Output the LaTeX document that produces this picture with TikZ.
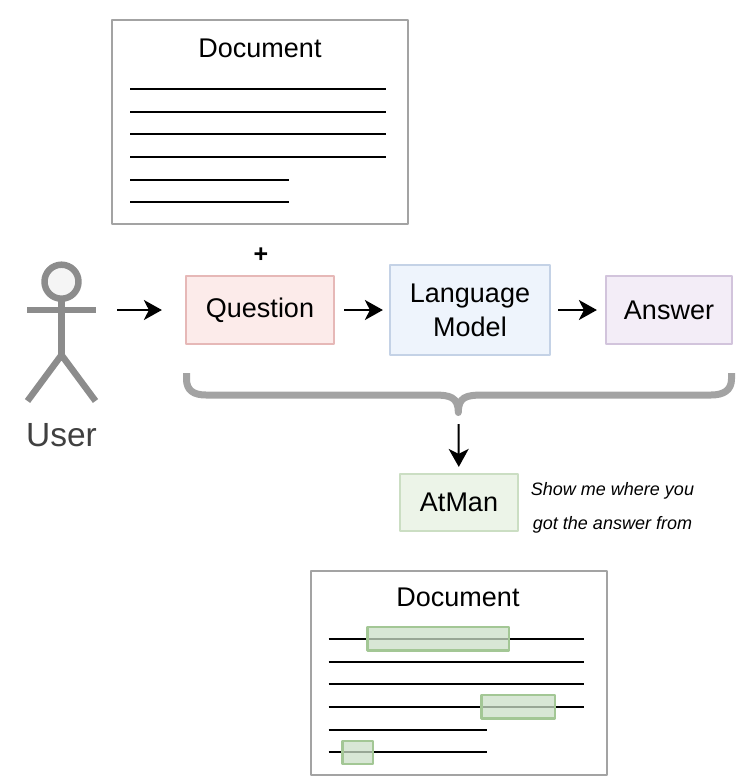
\documentclass[tikz,border=0pt]{standalone}
\usepackage{fontspec}
\setmainfont{Liberation Sans}
\usetikzlibrary{arrows.meta}
\definecolor{edge_gray}{HTML}{A3A3A3}
\definecolor{actor_gray}{HTML}{8C8C8C}
\definecolor{mark_green}{HTML}{A3C795}
\definecolor{mark_fill}{HTML}{CCE0C8}
\definecolor{q_edge}{HTML}{E6B8B7}
\definecolor{q_fill}{HTML}{FCEBEA}
\definecolor{m_edge}{HTML}{C4D2E6}
\definecolor{m_fill}{HTML}{EEF4FC}
\definecolor{a_edge}{HTML}{D2C4DC}
\definecolor{a_fill}{HTML}{F3EDF7}
\definecolor{t_edge}{HTML}{CBDEC3}
\definecolor{t_fill}{HTML}{ECF4E8}
\newcommand{\pagelines}[2]{
	\draw[page_line] (#1,#2) -- (#1+255.5,#2);
	\draw[page_line] (#1,#2+23) -- (#1+255.5,#2+23);
	\draw[page_line] (#1,#2+45) -- (#1+255.5,#2+45);
	\draw[page_line] (#1,#2+68) -- (#1+255.5,#2+68);
	\draw[page_line] (#1,#2+91) -- (#1+158.5,#2+91);
	\draw[page_line] (#1,#2+113) -- (#1+158.5,#2+113);
}
\begin{document}
\begin{tikzpicture}[x=1pt,y=-1pt,join=round]
		\tikzstyle{page_box}=[draw=edge_gray, line width=2.5pt, fill=white, minimum width=296pt, minimum height=204pt];
		\tikzstyle{page_line}=[black, line width=2pt];
		\tikzstyle{page_title}=[font=\fontsize{27}{32}\selectfont];
		\tikzstyle{step_box}=[draw, line width=2.2pt, align=center, font=\fontsize{27}{34}\selectfont];
		\tikzstyle{flow}=[-{Stealth[length=18pt,width=20pt,inset=5pt]}, black, line width=2pt];
		\tikzstyle{mark_box}=[draw=mark_green, line width=2.2pt, fill=mark_fill, fill opacity=0.75, inner sep=0pt];
		\tikzstyle{actor}=[draw=actor_gray, line width=6.5pt];

		\useasboundingbox (0,0) rectangle (740,782);

		% upper document
		\node[page_box] (page_a) at (260,122) {};
		\node[page_title] (title_a) at (260,48) {Document};
		\pagelines{130}{89}
		\node[font=\fontsize{25}{32}\bfseries] (plus) at (261,255.5) {+};

		% user
		\draw[actor, fill=black!4] (61.5,281.7) circle (17);
		\draw[actor] (61.5,301) -- (61.5,355);
		\draw[actor] (27,310) -- (96,310);
		\draw[actor] (27.5,401) -- (61.5,355) -- (95.5,401);
		\coordinate (arm_r) at (96,310);
		\node[font=\fontsize{33.5}{40}\selectfont, text=black!75] (user) at (61.5,435) {User};

		% pipeline
		\node[step_box, draw=q_edge, fill=q_fill, minimum width=148pt, minimum height=68pt] (question) at (260,310) {Question};
		\node[step_box, draw=m_edge, fill=m_fill, minimum width=160pt, minimum height=90pt] (model) at (470,310) {Language\\Model};
		\node[step_box, draw=a_edge, fill=a_fill, minimum width=126pt, minimum height=68pt] (answer) at (669,310) {Answer};
		\node[step_box, draw=t_edge, fill=t_fill, minimum width=118pt, minimum height=57pt] (atman) at (459,502.5) {AtMan};

		\draw[flow, shorten <=21pt, shorten >=23pt] (arm_r) -- (question);
		\draw[flow, shorten <=9pt, shorten >=6pt] (question) -- (model);
		\draw[flow, shorten <=7pt, shorten >=8pt] (model) -- (answer);

		% brace over the pipeline
		\draw[edge_gray, line width=7pt] (186.5,373) -- (186.5,379) .. controls (186.5,390) and (193,395) .. (206,395)
			-- (434,395) .. controls (450,395) and (458.3,397) .. (458.3,412.5)
			.. controls (458.3,397) and (466,395) .. (483,395) -- (711,395)
			.. controls (724,395) and (731.5,390) .. (731.5,379) -- (731.5,373);
		\coordinate (brace_tip) at (458.5,416);
		\draw[flow, shorten <=8pt, shorten >=6pt] (brace_tip) -- (atman);

		\node[align=center, font=\fontsize{18}{34}\itshape] (note) at (612.5,508) {Show me where you\\got the answer from};

		% lower document
		\node[page_box] (page_b) at (459,673) {};
		\node[page_title] (title_b) at (458,597) {Document};
		\pagelines{328.5}{639}
		\node[mark_box, minimum width=141.5pt, minimum height=23.5pt] (mark_a) at (438.2,638.7) {};
		\node[mark_box, minimum width=73.5pt, minimum height=23.5pt] (mark_b) at (518.2,706.7) {};
		\node[mark_box, minimum width=30.5pt, minimum height=23pt] (mark_c) at (357.8,752.3) {};
\end{tikzpicture}
\end{document}
